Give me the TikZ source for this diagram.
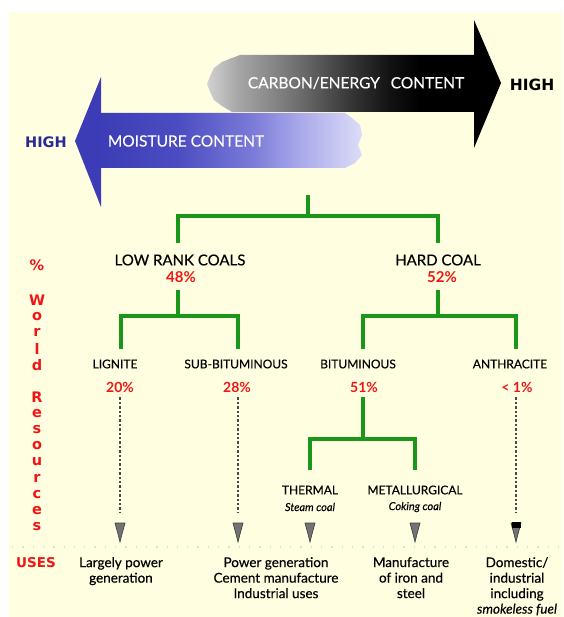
\documentclass[tikz,border=0pt]{standalone}
\usepackage{fontspec}
\setmainfont{Lato}
\newfontfamily\labfont{Lato}[FakeBold=0.35]
\newfontfamily\dejavu{DejaVu Sans}
\usetikzlibrary{calc}
\definecolor{bgyellow}{RGB}{255,254,224}
\definecolor{treegreen}{RGB}{26,150,26}
\definecolor{labred}{RGB}{240,22,22}
\definecolor{hiblue}{RGB}{42,42,150}
\definecolor{arrblue}{RGB}{60,60,182}
\definecolor{dotgray}{RGB}{72,72,72}
\definecolor{headgray}{RGB}{115,115,115}
\definecolor{faintgreen}{RGB}{205,232,198}
\definecolor{cz}{RGB}{210,210,210}
\definecolor{ca}{RGB}{165,165,165}
\definecolor{cb}{RGB}{110,110,110}
\definecolor{cc}{RGB}{55,55,55}
\definecolor{cd}{RGB}{18,18,18}
\definecolor{bz}{RGB}{60,60,182}
\definecolor{ba}{RGB}{76,76,194}
\definecolor{bb}{RGB}{122,122,216}
\definecolor{bc}{RGB}{168,168,234}
\definecolor{bd}{RGB}{220,220,248}
\pgfdeclarehorizontalshading{carbonshade}{100bp}{color(0bp)=(cz); color(25bp)=(cz); color(31bp)=(ca); color(42bp)=(cb); color(51.5bp)=(cc); color(59bp)=(cd); color(64.5bp)=(black); color(100bp)=(black)}
\pgfdeclarehorizontalshading{moistshade}{100bp}{color(0bp)=(bz); color(25bp)=(bz); color(40bp)=(ba); color(54bp)=(bb); color(63bp)=(bc); color(75bp)=(bd); color(100bp)=(bd)}
\begin{document}
\begin{tikzpicture}[x=1pt,y=-1pt,
  tree/.style={draw=treegreen,line width=3.8pt,line join=miter},
  dots/.style={draw=dotgray,line width=2.6pt,dash pattern=on 2.4pt off 2pt},
  faint/.style={draw=faintgreen,line width=1.3pt,dash pattern=on 1.3pt off 9pt},
  headfill/.style={fill=headgray,draw=black!75,line width=0.7pt},
  biglbl/.style={inner sep=0pt,font=\labfont\fontsize{15}{17}\selectfont},
  coaltype/.style={inner sep=0pt,font=\labfont\fontsize{12}{14}\selectfont},
  subnote/.style={inner sep=0pt,font=\labfont\itshape\fontsize{11}{13}\selectfont},
  pct/.style={inner sep=0pt,text=labred,font=\bfseries\fontsize{14}{16}\selectfont},
  side/.style={inner sep=0pt,text=labred,font=\dejavu\bfseries\fontsize{14.5}{16}\selectfont},
  usetext/.style={inner sep=0pt,align=center,anchor=north,font=\labfont\fontsize{13.5}{15.5}\selectfont},
  arrowtext/.style={inner sep=0pt,text=white,font=\labfont\fontsize{15.5}{18}\selectfont},
  highlbl/.style={inner sep=0pt,font=\dejavu\bfseries\fontsize{15.5}{18}\selectfont}]
\useasboundingbox (0,0) rectangle (563,617);
\fill[white] (0,0) rectangle (563,617);
\fill[bgyellow] (9,12) rectangle (563,617);

% ---- carbon / energy arrow (pointing right)
\shade[shading=carbonshade] (476,55) -- (240,55) -- (232,58) -- (222,62) -- (214,68)
  -- (210,76) -- (207,84) -- (210,92) -- (214,100) -- (222,106) -- (232,112) -- (476,112) -- cycle;
\fill[black] (474,20) -- (501,83) -- (474,148) -- cycle;
\node[arrowtext] (carbon) at (356,83) {CARBON/ENERGY\hspace{0.7em}CONTENT};
\node[highlbl,text=black] (highr) at (532,85) {HIGH};

% ---- moisture arrow (pointing left)
\shade[shading=moistshade] (99,113) -- (345,113) -- (352,118) -- (360,125) -- (362,135)
  -- (358,145) -- (362,155) -- (355,163) -- (345,168) -- (99,168) -- cycle;
\fill[arrblue] (101,77) -- (75,141) -- (101,207) -- cycle;
\node[arrowtext] (moist) at (186,141) {MOISTURE CONTENT};
\node[highlbl,text=hiblue,font=\dejavu\bfseries\fontsize{14.5}{17}\selectfont] (highl) at (46,142) {HIGH};

% ---- tree: level 1
\coordinate (root) at (308,195);
\coordinate (j1) at (308,216);
\coordinate (clow) at (178,243);
\coordinate (chard) at (438,243);
\draw[tree] (root) -- (j1);
\draw[tree] (clow) |- (j1) -| (chard);
\node[biglbl] (lowrank) at (180,260) {LOW RANK COALS};
\node[pct,font=\bfseries\fontsize{15}{17}\selectfont] (p48) at (181,277) {48\%};
\node[biglbl] (hard) at (438,260) {HARD COAL};
\node[pct,font=\bfseries\fontsize{15}{17}\selectfont] (p52) at (442,277) {52\%};

% ---- level 2
\coordinate (slow) at (178,290);
\coordinate (j2) at (178,316);
\coordinate (clig) at (121,349);
\coordinate (csub) at (238,349);
\draw[tree] (slow) -- (j2);
\draw[tree] (clig) |- (j2) -| (csub);
\coordinate (shard) at (438,290);
\coordinate (j3) at (438,316);
\coordinate (cbit) at (363,349);
\coordinate (cant) at (516,349);
\draw[tree] (shard) -- (j3);
\draw[tree] (cbit) |- (j3) -| (cant);

\node[coaltype] (lig) at (115,364) {LIGNITE};
\node[coaltype] (sub) at (236,364) {SUB-BITUMINOUS};
\node[coaltype] (bit) at (358,364) {BITUMINOUS};
\node[coaltype] (ant) at (510,364) {ANTHRACITE};
\node[pct] (p20) at (120,387) {20\%};
\node[pct] (p28) at (237,387) {28\%};
\node[pct] (p51) at (364,387) {51\%};
\node[pct] (plt) at (517,387) {< 1\%};

% ---- level 3 (bituminous)
\coordinate (sbit) at (363,397);
\coordinate (j4) at (363,439);
\coordinate (cth) at (310,470);
\coordinate (cmet) at (415,470);
\draw[tree] (sbit) -- (j4);
\draw[tree] (cth) |- (j4) -| (cmet);
\node[coaltype] (thermal) at (310,490) {THERMAL};
\node[subnote] (steam) at (310,507) {Steam coal};
\node[coaltype] (metal) at (415,490) {METALLURGICAL};
\node[subnote] (coking) at (415,507) {Coking coal};

% ---- arrowheads
\coordinate (h1) at (120,523);
\coordinate (h2) at (238,523);
\coordinate (h3) at (310,523);
\coordinate (h4) at (415,523);
\coordinate (h5) at (516,523);
\foreach \h in {h1,h2,h3,h4,h5}
  \filldraw[headfill] (\h) ++(-5,0) -- ++(10,0) -- ++(-3,11) -- ++(-2,8) -- ++(-2,-8) -- cycle;
\fill[black] (h5) ++(-4.5,-1) rectangle ++(9,6);

% ---- dotted connectors
\draw[dots] ($(h1 |- p20.south)+(0,5)$) -- ($(h1)+(0,-10)$);
\draw[dots] ($(h2 |- p28.south)+(0,5)$) -- ($(h2)+(0,-10)$);
\draw[dots] ($(h5 |- plt.south)+(0,5)$) -- ($(h5)+(0,-10)$);

% ---- faint separator
\coordinate (fl) at (12,547);
\coordinate (fr) at (560,547);
\draw[faint] (fl) -- (fr);

% ---- left column
\node[side] (pc) at (37,265) {\%};
\foreach \ch [count=\i] in {W,o,r,l,d}
  \node[side] (w\i) at (37,{300+16.25*(\i-1)}) {\ch};
\foreach \ch [count=\i] in {R,e,s,o,u,r,c,e,s}
  \node[side] (r\i) at (37,{397+16.25*(\i-1)}) {\ch};
\node[side,font=\dejavu\bfseries\fontsize{13.5}{15}\selectfont] (uses) at (36,563) {USES};

% ---- uses
\node[usetext] (u1) at (121,557) {Largely power\\generation};
\node[usetext] (u2) at (276,557) {Power generation\\Cement manufacture\\Industrial uses};
\node[usetext] (u3) at (411,557) {Manufacture\\of iron and\\steel};
\node[usetext] (u4) at (517,557) {Domestic/\\industrial\\including\\\textit{smokeless fuel}};
\end{tikzpicture}
\end{document}
